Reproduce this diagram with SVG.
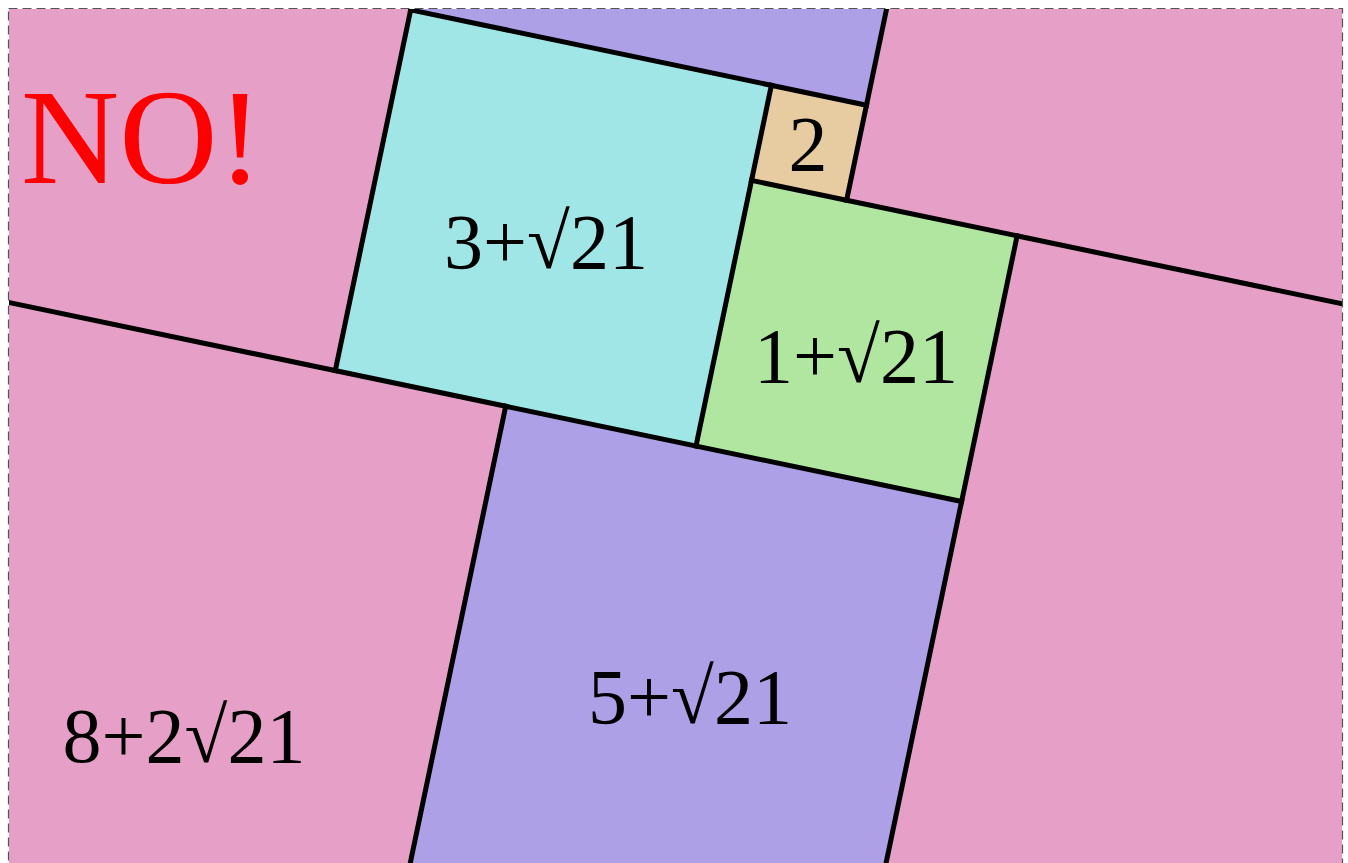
<svg xmlns="http://www.w3.org/2000/svg" width="1348" height="863" viewBox="0 0 1348 863">
  <style>
    .edge { stroke: #000; stroke-width: 5; fill: none; stroke-linecap: square; }
    .lbl { font-family: "Liberation Serif", "Times New Roman", serif; font-size: 78px; fill: #000; text-anchor: middle; }
    .sq { stroke: none; }
  </style>
  <defs>
    <clipPath id="frame">
      <rect x="9" y="9" width="1333" height="860"/>
    </clipPath>
  </defs>
  <rect x="0" y="0" width="1348" height="863" fill="#ffffff"/>
  <g clip-path="url(#frame)">
    <g id="pink-squares">
      <rect x="9" y="9" width="1333" height="860" fill="#E6A0C8"/>
    </g>
    <g id="square-cyan">
      <polygon class="sq" fill="#A0E6E6" points="410.7,9.9 771.4,85.3 696,446 335.3,370.6"/>
    </g>
    <g id="square-orange">
      <polygon class="sq" fill="#E6CCA0" points="771.4,85.3 866.5,105.2 846.6,200.3 751.5,180.4"/>
    </g>
    <g id="square-green">
      <polygon class="sq" fill="#B0E6A0" points="751.5,180.4 1017.1,235.9 961.6,501.5 696,446"/>
    </g>
    <g id="square-purple-top">
      <polygon class="sq" fill="#ADA0E6" points="505.9,-446 961.7,-350.7 866.5,105.2 410.7,9.9"/>
    </g>
    <g id="square-purple-bottom">
      <polygon class="sq" fill="#ADA0E6" points="505.7,406.3 961.6,501.5 866.4,957.4 410.5,862.2"/>
    </g>
    <g id="connectors">
      <line class="edge" x1="-100" y1="279.7" x2="961.6" y2="501.5"/>
      <line class="edge" x1="410.7" y1="9.9" x2="866.5" y2="105.2"/>
      <line class="edge" x1="751.5" y1="180.4" x2="1450" y2="326.3"/>
      <line class="edge" x1="335.3" y1="370.6" x2="505.9" y2="-446"/>
      <line class="edge" x1="771.4" y1="85.3" x2="696" y2="446"/>
      <line class="edge" x1="846.6" y1="200.3" x2="961.7" y2="-350.7"/>
      <line class="edge" x1="1017.1" y1="235.9" x2="846.5" y2="1052.5"/>
      <line class="edge" x1="505.7" y1="406.3" x2="335.1" y2="1222.9"/>
    </g>
  </g>
  <rect x="8.5" y="8.5" width="1334" height="870" fill="none" stroke="#555" stroke-width="1.2" stroke-dasharray="9,5"/>
  <g id="labels">
    <text x="21" y="183" font-family="Liberation Serif, Times New Roman, serif" font-size="136" fill="#FF0000">NO!</text>
    <text class="lbl" x="546" y="268">3+√21</text>
    <text class="lbl" x="808" y="170">2</text>
    <text class="lbl" x="856" y="382">1+√21</text>
    <text class="lbl" x="690" y="723">5+√21</text>
    <text class="lbl" x="184" y="762">8+2√21</text>
  </g>
</svg>
